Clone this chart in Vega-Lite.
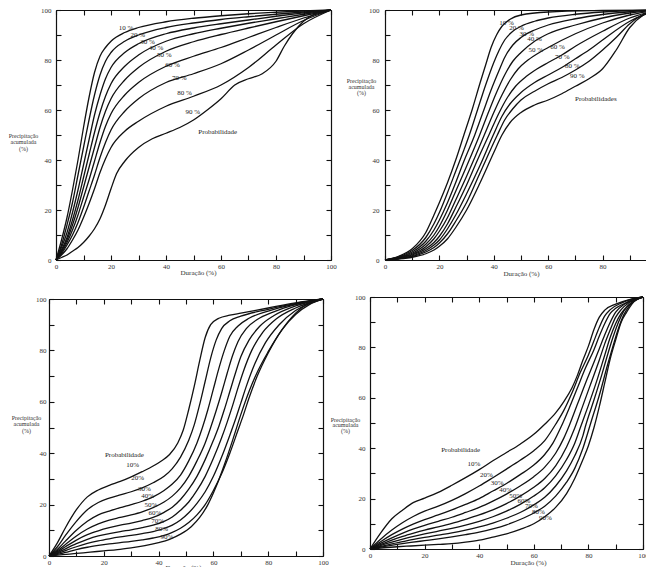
{
"$schema":"https://vega.github.io/schema/vega-lite/v6.json",
"padding":{"left":8,"top":6,"right":0,"bottom":0},
"config":{"view":{"stroke":null},"font":"Liberation Serif",
"axis":{"grid":false,"domainColor":"#111","domainWidth":1.2,"tickColor":"#111","tickWidth":1.1,"tickSize":-5,"labelFont":"Liberation Serif","labelFontSize":7,"labelColor":"#333","titleFont":"Liberation Serif","titleFontSize":6,"titleFontWeight":"normal","titleColor":"#333","labelOverlap":false,"labelFlush":false},
"line":{"color":"#111","strokeWidth":1.3,"interpolate":"monotone"},
"text":{"font":"Liberation Serif","fontSize":7,"color":"#222"}},
"datasets":{
"p1":[
{"c":1,"x":0,"y":0},{"c":1,"x":2,"y":8},{"c":1,"x":4,"y":17},{"c":1,"x":6,"y":28},{"c":1,"x":8,"y":40},{"c":1,"x":10,"y":53},{"c":1,"x":12,"y":65},{"c":1,"x":14,"y":75},{"c":1,"x":16,"y":81.5},{"c":1,"x":18,"y":85},{"c":1,"x":20,"y":87.5},{"c":1,"x":25,"y":91},{"c":1,"x":30,"y":93},{"c":1,"x":40,"y":95.3},{"c":1,"x":50,"y":96.7},{"c":1,"x":60,"y":97.7},{"c":1,"x":70,"y":98.5},{"c":1,"x":80,"y":99.1},{"c":1,"x":90,"y":99.6},{"c":1,"x":100,"y":100},
{"c":2,"x":0,"y":0},{"c":2,"x":2,"y":6},{"c":2,"x":4,"y":14},{"c":2,"x":6,"y":23},{"c":2,"x":8,"y":34},{"c":2,"x":10,"y":45},{"c":2,"x":12,"y":56},{"c":2,"x":14,"y":66},{"c":2,"x":16,"y":74},{"c":2,"x":18,"y":79.5},{"c":2,"x":20,"y":83},{"c":2,"x":25,"y":87.5},{"c":2,"x":30,"y":90},{"c":2,"x":40,"y":93},{"c":2,"x":50,"y":94.8},{"c":2,"x":60,"y":96.2},{"c":2,"x":70,"y":97.3},{"c":2,"x":80,"y":98.3},{"c":2,"x":90,"y":99.2},{"c":2,"x":100,"y":100},
{"c":3,"x":0,"y":0},{"c":3,"x":2,"y":5},{"c":3,"x":4,"y":11},{"c":3,"x":6,"y":19},{"c":3,"x":8,"y":28},{"c":3,"x":10,"y":38},{"c":3,"x":12,"y":48},{"c":3,"x":14,"y":58},{"c":3,"x":16,"y":66},{"c":3,"x":18,"y":72.5},{"c":3,"x":20,"y":77},{"c":3,"x":25,"y":83},{"c":3,"x":30,"y":86.5},{"c":3,"x":40,"y":90.5},{"c":3,"x":50,"y":92.8},{"c":3,"x":60,"y":94.5},{"c":3,"x":70,"y":96},{"c":3,"x":80,"y":97.5},{"c":3,"x":90,"y":98.8},{"c":3,"x":100,"y":100},
{"c":4,"x":0,"y":0},{"c":4,"x":2,"y":4},{"c":4,"x":4,"y":9},{"c":4,"x":6,"y":16},{"c":4,"x":8,"y":24},{"c":4,"x":10,"y":33},{"c":4,"x":12,"y":42},{"c":4,"x":14,"y":51},{"c":4,"x":16,"y":59},{"c":4,"x":18,"y":65.5},{"c":4,"x":20,"y":70.5},{"c":4,"x":25,"y":77.5},{"c":4,"x":30,"y":82},{"c":4,"x":40,"y":87.5},{"c":4,"x":50,"y":90.5},{"c":4,"x":60,"y":92.7},{"c":4,"x":70,"y":94.7},{"c":4,"x":80,"y":96.5},{"c":4,"x":90,"y":98.3},{"c":4,"x":100,"y":100},
{"c":5,"x":0,"y":0},{"c":5,"x":2,"y":3.5},{"c":5,"x":4,"y":8},{"c":5,"x":6,"y":14},{"c":5,"x":8,"y":21},{"c":5,"x":10,"y":29},{"c":5,"x":12,"y":37},{"c":5,"x":14,"y":45},{"c":5,"x":16,"y":53},{"c":5,"x":18,"y":59.5},{"c":5,"x":20,"y":64.5},{"c":5,"x":25,"y":72},{"c":5,"x":30,"y":77},{"c":5,"x":40,"y":83.5},{"c":5,"x":50,"y":87.3},{"c":5,"x":60,"y":90.2},{"c":5,"x":70,"y":92.8},{"c":5,"x":80,"y":95.3},{"c":5,"x":90,"y":97.7},{"c":5,"x":100,"y":100},
{"c":6,"x":0,"y":0},{"c":6,"x":2,"y":3},{"c":6,"x":4,"y":7},{"c":6,"x":6,"y":12},{"c":6,"x":8,"y":18},{"c":6,"x":10,"y":25},{"c":6,"x":12,"y":32},{"c":6,"x":14,"y":39.5},{"c":6,"x":16,"y":47},{"c":6,"x":18,"y":53.5},{"c":6,"x":20,"y":58.5},{"c":6,"x":25,"y":66},{"c":6,"x":30,"y":71},{"c":6,"x":40,"y":77.5},{"c":6,"x":50,"y":81.5},{"c":6,"x":60,"y":85},{"c":6,"x":70,"y":89},{"c":6,"x":80,"y":93},{"c":6,"x":90,"y":96.8},{"c":6,"x":100,"y":100},
{"c":7,"x":0,"y":0},{"c":7,"x":2,"y":2.5},{"c":7,"x":4,"y":6},{"c":7,"x":6,"y":10},{"c":7,"x":8,"y":15},{"c":7,"x":10,"y":21},{"c":7,"x":12,"y":27.5},{"c":7,"x":14,"y":34},{"c":7,"x":16,"y":41},{"c":7,"x":18,"y":47},{"c":7,"x":20,"y":52},{"c":7,"x":25,"y":59.5},{"c":7,"x":30,"y":64.5},{"c":7,"x":40,"y":71},{"c":7,"x":50,"y":74.5},{"c":7,"x":60,"y":78.5},{"c":7,"x":70,"y":84},{"c":7,"x":80,"y":90},{"c":7,"x":90,"y":95.8},{"c":7,"x":100,"y":100},
{"c":8,"x":0,"y":0},{"c":8,"x":2,"y":2},{"c":8,"x":4,"y":4.5},{"c":8,"x":6,"y":8},{"c":8,"x":8,"y":12},{"c":8,"x":10,"y":17},{"c":8,"x":12,"y":22.5},{"c":8,"x":14,"y":28.5},{"c":8,"x":16,"y":35},{"c":8,"x":18,"y":40.5},{"c":8,"x":20,"y":45},{"c":8,"x":25,"y":51.5},{"c":8,"x":30,"y":55.5},{"c":8,"x":40,"y":61.5},{"c":8,"x":50,"y":65.5},{"c":8,"x":60,"y":70},{"c":8,"x":70,"y":77},{"c":8,"x":80,"y":86},{"c":8,"x":90,"y":94.5},{"c":8,"x":100,"y":100},
{"c":9,"x":0,"y":0},{"c":9,"x":2,"y":1},{"c":9,"x":4,"y":2},{"c":9,"x":6,"y":3.5},{"c":9,"x":8,"y":5},{"c":9,"x":10,"y":7},{"c":9,"x":12,"y":9.5},{"c":9,"x":14,"y":12.5},{"c":9,"x":16,"y":16.5},{"c":9,"x":18,"y":22},{"c":9,"x":20,"y":28.5},{"c":9,"x":22,"y":34.5},{"c":9,"x":25,"y":39.5},{"c":9,"x":30,"y":45},{"c":9,"x":35,"y":48.5},{"c":9,"x":40,"y":50.7},{"c":9,"x":45,"y":53},{"c":9,"x":50,"y":56},{"c":9,"x":55,"y":60},{"c":9,"x":60,"y":64.5},{"c":9,"x":65,"y":70},{"c":9,"x":70,"y":72.5},{"c":9,"x":75,"y":74.5},{"c":9,"x":80,"y":79.5},{"c":9,"x":83,"y":85.5},{"c":9,"x":86,"y":90.5},{"c":9,"x":90,"y":95.5},{"c":9,"x":95,"y":98.8},{"c":9,"x":100,"y":100}],
"p2":[
{"c":1,"x":0,"y":0},{"c":1,"x":5,"y":1.5},{"c":1,"x":10,"y":4.5},{"c":1,"x":15,"y":11},{"c":1,"x":18,"y":18},{"c":1,"x":20,"y":23},{"c":1,"x":23,"y":31},{"c":1,"x":26,"y":40},{"c":1,"x":29,"y":50},{"c":1,"x":32,"y":60},{"c":1,"x":35,"y":71},{"c":1,"x":37,"y":78},{"c":1,"x":39,"y":85},{"c":1,"x":41,"y":90},{"c":1,"x":43,"y":93.5},{"c":1,"x":46,"y":96.3},{"c":1,"x":50,"y":98},{"c":1,"x":60,"y":99.2},{"c":1,"x":80,"y":99.8},{"c":1,"x":100,"y":100},
{"c":2,"x":0,"y":0},{"c":2,"x":5,"y":1.3},{"c":2,"x":10,"y":3.8},{"c":2,"x":15,"y":9},{"c":2,"x":18,"y":14.5},{"c":2,"x":20,"y":19},{"c":2,"x":23,"y":27},{"c":2,"x":26,"y":35.5},{"c":2,"x":29,"y":44},{"c":2,"x":31,"y":50},{"c":2,"x":34,"y":60},{"c":2,"x":37,"y":70},{"c":2,"x":40,"y":79},{"c":2,"x":42,"y":84},{"c":2,"x":44,"y":88},{"c":2,"x":47,"y":91.5},{"c":2,"x":50,"y":93.5},{"c":2,"x":55,"y":95.5},{"c":2,"x":60,"y":96.8},{"c":2,"x":70,"y":98.3},{"c":2,"x":80,"y":99.2},{"c":2,"x":100,"y":100},
{"c":3,"x":0,"y":0},{"c":3,"x":5,"y":1.1},{"c":3,"x":10,"y":3.2},{"c":3,"x":15,"y":7.5},{"c":3,"x":18,"y":12},{"c":3,"x":20,"y":16},{"c":3,"x":23,"y":23},{"c":3,"x":26,"y":31},{"c":3,"x":29,"y":39.5},{"c":3,"x":33,"y":50},{"c":3,"x":36,"y":59},{"c":3,"x":39,"y":68},{"c":3,"x":42,"y":76},{"c":3,"x":44,"y":81},{"c":3,"x":47,"y":86},{"c":3,"x":50,"y":89},{"c":3,"x":55,"y":92},{"c":3,"x":60,"y":94},{"c":3,"x":70,"y":96.5},{"c":3,"x":80,"y":98.2},{"c":3,"x":90,"y":99.3},{"c":3,"x":100,"y":100},
{"c":4,"x":0,"y":0},{"c":4,"x":5,"y":1},{"c":4,"x":10,"y":2.7},{"c":4,"x":15,"y":6.3},{"c":4,"x":18,"y":10},{"c":4,"x":20,"y":13.5},{"c":4,"x":23,"y":20},{"c":4,"x":26,"y":27.5},{"c":4,"x":30,"y":37.5},{"c":4,"x":34.8,"y":50},{"c":4,"x":38,"y":59},{"c":4,"x":41,"y":67},{"c":4,"x":44,"y":74},{"c":4,"x":47,"y":79.5},{"c":4,"x":50,"y":83},{"c":4,"x":55,"y":87.5},{"c":4,"x":60,"y":90.5},{"c":4,"x":70,"y":94},{"c":4,"x":80,"y":96.8},{"c":4,"x":90,"y":98.8},{"c":4,"x":100,"y":100},
{"c":5,"x":0,"y":0},{"c":5,"x":5,"y":0.8},{"c":5,"x":10,"y":2.3},{"c":5,"x":15,"y":5.3},{"c":5,"x":18,"y":8.5},{"c":5,"x":20,"y":11.5},{"c":5,"x":23,"y":17},{"c":5,"x":26,"y":24},{"c":5,"x":30,"y":33.5},{"c":5,"x":33,"y":41},{"c":5,"x":36.5,"y":50},{"c":5,"x":40,"y":59},{"c":5,"x":43,"y":66},{"c":5,"x":46,"y":72},{"c":5,"x":49,"y":76.5},{"c":5,"x":52,"y":79.5},{"c":5,"x":56,"y":82.5},{"c":5,"x":60,"y":85},{"c":5,"x":70,"y":90.5},{"c":5,"x":80,"y":94.8},{"c":5,"x":90,"y":98},{"c":5,"x":100,"y":100},
{"c":6,"x":0,"y":0},{"c":6,"x":5,"y":0.7},{"c":6,"x":10,"y":2},{"c":6,"x":15,"y":4.5},{"c":6,"x":18,"y":7},{"c":6,"x":20,"y":9.5},{"c":6,"x":23,"y":14.5},{"c":6,"x":26,"y":21},{"c":6,"x":30,"y":30},{"c":6,"x":34,"y":40},{"c":6,"x":38.2,"y":50},{"c":6,"x":42,"y":59},{"c":6,"x":45,"y":65},{"c":6,"x":48,"y":69.5},{"c":6,"x":52,"y":73.5},{"c":6,"x":56,"y":76.5},{"c":6,"x":60,"y":79},{"c":6,"x":65,"y":82},{"c":6,"x":70,"y":85.5},{"c":6,"x":80,"y":91.5},{"c":6,"x":90,"y":96.8},{"c":6,"x":100,"y":100},
{"c":7,"x":0,"y":0},{"c":7,"x":5,"y":0.6},{"c":7,"x":10,"y":1.7},{"c":7,"x":15,"y":3.8},{"c":7,"x":18,"y":6},{"c":7,"x":20,"y":8},{"c":7,"x":23,"y":12.5},{"c":7,"x":26,"y":18},{"c":7,"x":30,"y":26.5},{"c":7,"x":35,"y":38},{"c":7,"x":39.8,"y":50},{"c":7,"x":43,"y":57.5},{"c":7,"x":46,"y":62.5},{"c":7,"x":50,"y":67},{"c":7,"x":55,"y":71},{"c":7,"x":60,"y":74},{"c":7,"x":65,"y":77},{"c":7,"x":70,"y":80.5},{"c":7,"x":75,"y":84},{"c":7,"x":80,"y":88},{"c":7,"x":90,"y":95.5},{"c":7,"x":100,"y":100},
{"c":8,"x":0,"y":0},{"c":8,"x":5,"y":0.5},{"c":8,"x":10,"y":1.4},{"c":8,"x":15,"y":3.2},{"c":8,"x":18,"y":5},{"c":8,"x":20,"y":6.8},{"c":8,"x":23,"y":10.5},{"c":8,"x":26,"y":15.5},{"c":8,"x":30,"y":23},{"c":8,"x":35,"y":35},{"c":8,"x":41.3,"y":50},{"c":8,"x":44,"y":56},{"c":8,"x":47,"y":60.5},{"c":8,"x":50,"y":64},{"c":8,"x":55,"y":67.5},{"c":8,"x":60,"y":70.5},{"c":8,"x":65,"y":73},{"c":8,"x":70,"y":76},{"c":8,"x":75,"y":79.5},{"c":8,"x":80,"y":84},{"c":8,"x":85,"y":89},{"c":8,"x":90,"y":94.5},{"c":8,"x":95,"y":98.3},{"c":8,"x":100,"y":100},
{"c":9,"x":0,"y":0},{"c":9,"x":5,"y":0.4},{"c":9,"x":10,"y":1.1},{"c":9,"x":15,"y":2.5},{"c":9,"x":18,"y":4},{"c":9,"x":20,"y":5.5},{"c":9,"x":23,"y":8.5},{"c":9,"x":26,"y":13},{"c":9,"x":30,"y":20},{"c":9,"x":35,"y":31},{"c":9,"x":40,"y":43},{"c":9,"x":43,"y":50},{"c":9,"x":46,"y":55},{"c":9,"x":50,"y":59},{"c":9,"x":55,"y":62},{"c":9,"x":60,"y":64},{"c":9,"x":65,"y":66.5},{"c":9,"x":70,"y":69.5},{"c":9,"x":75,"y":72.5},{"c":9,"x":80,"y":76.5},{"c":9,"x":85,"y":84},{"c":9,"x":90,"y":93},{"c":9,"x":95,"y":98},{"c":9,"x":100,"y":100}],
"p3":[
{"c":1,"x":0,"y":0},{"c":1,"x":3,"y":5},{"c":1,"x":6,"y":11},{"c":1,"x":10,"y":18},{"c":1,"x":14,"y":23},{"c":1,"x":18,"y":25.7},{"c":1,"x":22,"y":27.5},{"c":1,"x":26,"y":29},{"c":1,"x":30,"y":30.8},{"c":1,"x":34,"y":32.8},{"c":1,"x":38,"y":35},{"c":1,"x":41,"y":37},{"c":1,"x":44,"y":39.5},{"c":1,"x":47,"y":44},{"c":1,"x":49,"y":49},{"c":1,"x":51,"y":57},{"c":1,"x":53,"y":66},{"c":1,"x":55,"y":76},{"c":1,"x":57,"y":85},{"c":1,"x":59,"y":90},{"c":1,"x":62,"y":92.5},{"c":1,"x":66,"y":93.7},{"c":1,"x":70,"y":94.5},{"c":1,"x":80,"y":96.5},{"c":1,"x":90,"y":98.5},{"c":1,"x":100,"y":100},
{"c":2,"x":0,"y":0},{"c":2,"x":3,"y":3.5},{"c":2,"x":6,"y":8},{"c":2,"x":10,"y":13.5},{"c":2,"x":14,"y":18},{"c":2,"x":18,"y":20.8},{"c":2,"x":22,"y":22.5},{"c":2,"x":26,"y":23.8},{"c":2,"x":30,"y":25},{"c":2,"x":34,"y":26.5},{"c":2,"x":38,"y":28.5},{"c":2,"x":42,"y":31},{"c":2,"x":45,"y":34},{"c":2,"x":48,"y":38.5},{"c":2,"x":51,"y":45},{"c":2,"x":53,"y":51},{"c":2,"x":55,"y":59},{"c":2,"x":57,"y":68},{"c":2,"x":59,"y":77},{"c":2,"x":61,"y":84},{"c":2,"x":63,"y":88.5},{"c":2,"x":66,"y":91.5},{"c":2,"x":70,"y":93.3},{"c":2,"x":80,"y":96},{"c":2,"x":90,"y":98.3},{"c":2,"x":100,"y":100},
{"c":3,"x":0,"y":0},{"c":3,"x":3,"y":2.5},{"c":3,"x":6,"y":5.8},{"c":3,"x":10,"y":10},{"c":3,"x":14,"y":13.5},{"c":3,"x":18,"y":16},{"c":3,"x":22,"y":17.5},{"c":3,"x":26,"y":18.8},{"c":3,"x":30,"y":20},{"c":3,"x":34,"y":21.3},{"c":3,"x":38,"y":23},{"c":3,"x":42,"y":25.5},{"c":3,"x":45,"y":28},{"c":3,"x":48,"y":31.5},{"c":3,"x":51,"y":37},{"c":3,"x":54,"y":44},{"c":3,"x":56,"y":50},{"c":3,"x":58,"y":57},{"c":3,"x":60,"y":65},{"c":3,"x":62,"y":73},{"c":3,"x":64,"y":80},{"c":3,"x":66,"y":85.5},{"c":3,"x":69,"y":89.5},{"c":3,"x":73,"y":92.5},{"c":3,"x":80,"y":95.3},{"c":3,"x":90,"y":98},{"c":3,"x":100,"y":100},
{"c":4,"x":0,"y":0},{"c":4,"x":3,"y":2},{"c":4,"x":6,"y":4.5},{"c":4,"x":10,"y":7.8},{"c":4,"x":14,"y":10.5},{"c":4,"x":18,"y":12.5},{"c":4,"x":22,"y":14},{"c":4,"x":26,"y":15},{"c":4,"x":30,"y":16},{"c":4,"x":34,"y":17.2},{"c":4,"x":38,"y":18.8},{"c":4,"x":42,"y":21},{"c":4,"x":45,"y":23.3},{"c":4,"x":48,"y":26.5},{"c":4,"x":51,"y":31},{"c":4,"x":54,"y":37},{"c":4,"x":57,"y":44},{"c":4,"x":59,"y":50},{"c":4,"x":61,"y":56.5},{"c":4,"x":63,"y":63.5},{"c":4,"x":65,"y":71},{"c":4,"x":67,"y":78},{"c":4,"x":69,"y":83.5},{"c":4,"x":72,"y":88.5},{"c":4,"x":76,"y":92},{"c":4,"x":82,"y":95},{"c":4,"x":90,"y":97.8},{"c":4,"x":100,"y":100},
{"c":5,"x":0,"y":0},{"c":5,"x":3,"y":1.6},{"c":5,"x":6,"y":3.6},{"c":5,"x":10,"y":6.2},{"c":5,"x":14,"y":8.3},{"c":5,"x":18,"y":9.8},{"c":5,"x":22,"y":11},{"c":5,"x":26,"y":12},{"c":5,"x":30,"y":12.8},{"c":5,"x":34,"y":13.8},{"c":5,"x":38,"y":15},{"c":5,"x":42,"y":17},{"c":5,"x":45,"y":19},{"c":5,"x":48,"y":22},{"c":5,"x":51,"y":26},{"c":5,"x":54,"y":31},{"c":5,"x":57,"y":37.5},{"c":5,"x":60,"y":45},{"c":5,"x":62,"y":50.5},{"c":5,"x":64,"y":57},{"c":5,"x":66,"y":64},{"c":5,"x":68,"y":71},{"c":5,"x":70,"y":77.5},{"c":5,"x":73,"y":84},{"c":5,"x":77,"y":89.5},{"c":5,"x":82,"y":93.5},{"c":5,"x":90,"y":97.3},{"c":5,"x":100,"y":100},
{"c":6,"x":0,"y":0},{"c":6,"x":3,"y":1.2},{"c":6,"x":6,"y":2.8},{"c":6,"x":10,"y":4.8},{"c":6,"x":14,"y":6.5},{"c":6,"x":18,"y":7.8},{"c":6,"x":22,"y":8.7},{"c":6,"x":26,"y":9.5},{"c":6,"x":30,"y":10.2},{"c":6,"x":34,"y":11},{"c":6,"x":38,"y":12},{"c":6,"x":42,"y":13.5},{"c":6,"x":45,"y":15.2},{"c":6,"x":48,"y":17.8},{"c":6,"x":51,"y":21},{"c":6,"x":54,"y":25.5},{"c":6,"x":57,"y":31},{"c":6,"x":60,"y":38},{"c":6,"x":63,"y":46},{"c":6,"x":65,"y":52},{"c":6,"x":67,"y":58.5},{"c":6,"x":69,"y":65.5},{"c":6,"x":71,"y":72},{"c":6,"x":74,"y":80},{"c":6,"x":78,"y":87},{"c":6,"x":83,"y":92.3},{"c":6,"x":90,"y":96.5},{"c":6,"x":100,"y":100},
{"c":7,"x":0,"y":0},{"c":7,"x":3,"y":0.9},{"c":7,"x":6,"y":2.1},{"c":7,"x":10,"y":3.6},{"c":7,"x":14,"y":4.9},{"c":7,"x":18,"y":5.9},{"c":7,"x":22,"y":6.7},{"c":7,"x":26,"y":7.4},{"c":7,"x":30,"y":8},{"c":7,"x":34,"y":8.7},{"c":7,"x":38,"y":9.5},{"c":7,"x":42,"y":10.7},{"c":7,"x":45,"y":12},{"c":7,"x":48,"y":14},{"c":7,"x":51,"y":16.8},{"c":7,"x":54,"y":20.5},{"c":7,"x":57,"y":25},{"c":7,"x":60,"y":31},{"c":7,"x":63,"y":38.5},{"c":7,"x":66,"y":47},{"c":7,"x":68,"y":53},{"c":7,"x":70,"y":59.5},{"c":7,"x":72,"y":66},{"c":7,"x":75,"y":74.5},{"c":7,"x":79,"y":83},{"c":7,"x":84,"y":90},{"c":7,"x":90,"y":95.5},{"c":7,"x":100,"y":100},
{"c":8,"x":0,"y":0},{"c":8,"x":3,"y":0.6},{"c":8,"x":6,"y":1.4},{"c":8,"x":10,"y":2.5},{"c":8,"x":14,"y":3.4},{"c":8,"x":18,"y":4.1},{"c":8,"x":22,"y":4.7},{"c":8,"x":26,"y":5.2},{"c":8,"x":30,"y":5.7},{"c":8,"x":34,"y":6.3},{"c":8,"x":38,"y":7},{"c":8,"x":42,"y":8},{"c":8,"x":45,"y":9.2},{"c":8,"x":48,"y":10.8},{"c":8,"x":51,"y":13},{"c":8,"x":54,"y":16},{"c":8,"x":57,"y":20},{"c":8,"x":60,"y":25.5},{"c":8,"x":63,"y":32},{"c":8,"x":66,"y":40},{"c":8,"x":69,"y":49},{"c":8,"x":71,"y":55},{"c":8,"x":73,"y":61.5},{"c":8,"x":76,"y":70},{"c":8,"x":80,"y":79},{"c":8,"x":85,"y":88},{"c":8,"x":90,"y":94},{"c":8,"x":95,"y":97.8},{"c":8,"x":100,"y":100},
{"c":9,"x":0,"y":0},{"c":9,"x":5,"y":0.5},{"c":9,"x":10,"y":1},{"c":9,"x":15,"y":1.5},{"c":9,"x":20,"y":2},{"c":9,"x":25,"y":2.5},{"c":9,"x":30,"y":3.2},{"c":9,"x":35,"y":4},{"c":9,"x":40,"y":5.2},{"c":9,"x":44,"y":6.5},{"c":9,"x":48,"y":8.5},{"c":9,"x":52,"y":11.5},{"c":9,"x":55,"y":15},{"c":9,"x":58,"y":20},{"c":9,"x":61,"y":27},{"c":9,"x":64,"y":35.5},{"c":9,"x":67,"y":45},{"c":9,"x":70,"y":55},{"c":9,"x":73,"y":64},{"c":9,"x":76,"y":71.5},{"c":9,"x":80,"y":79.5},{"c":9,"x":85,"y":88},{"c":9,"x":90,"y":94.5},{"c":9,"x":95,"y":98.5},{"c":9,"x":100,"y":100}],
"p4":[
{"c":1,"x":0,"y":0},{"c":1,"x":4,"y":6.5},{"c":1,"x":8,"y":12},{"c":1,"x":12,"y":15.5},{"c":1,"x":16,"y":18.5},{"c":1,"x":20,"y":20.2},{"c":1,"x":25,"y":22.5},{"c":1,"x":30,"y":25.3},{"c":1,"x":35,"y":28.3},{"c":1,"x":40,"y":31.5},{"c":1,"x":45,"y":35},{"c":1,"x":50,"y":38.3},{"c":1,"x":55,"y":41.6},{"c":1,"x":60,"y":45.5},{"c":1,"x":64,"y":49.5},{"c":1,"x":68,"y":54},{"c":1,"x":71,"y":58.5},{"c":1,"x":74,"y":64},{"c":1,"x":76,"y":69},{"c":1,"x":78,"y":75},{"c":1,"x":80,"y":80.5},{"c":1,"x":82,"y":87},{"c":1,"x":84,"y":92},{"c":1,"x":86,"y":94.8},{"c":1,"x":90,"y":97.2},{"c":1,"x":95,"y":99},{"c":1,"x":100,"y":100},
{"c":2,"x":0,"y":0},{"c":2,"x":4,"y":4},{"c":2,"x":8,"y":7.5},{"c":2,"x":12,"y":10.5},{"c":2,"x":16,"y":13},{"c":2,"x":20,"y":15},{"c":2,"x":25,"y":17},{"c":2,"x":30,"y":19.3},{"c":2,"x":35,"y":22},{"c":2,"x":40,"y":25},{"c":2,"x":45,"y":28.3},{"c":2,"x":50,"y":31.7},{"c":2,"x":55,"y":35.2},{"c":2,"x":60,"y":39},{"c":2,"x":64,"y":43},{"c":2,"x":68,"y":49.5},{"c":2,"x":71,"y":55},{"c":2,"x":74,"y":62},{"c":2,"x":77,"y":70},{"c":2,"x":80,"y":77},{"c":2,"x":82,"y":82.5},{"c":2,"x":84,"y":88},{"c":2,"x":86,"y":92.5},{"c":2,"x":88,"y":95},{"c":2,"x":92,"y":97.6},{"c":2,"x":96,"y":99.2},{"c":2,"x":100,"y":100},
{"c":3,"x":0,"y":0},{"c":3,"x":4,"y":3},{"c":3,"x":8,"y":5.7},{"c":3,"x":12,"y":8},{"c":3,"x":16,"y":10},{"c":3,"x":20,"y":11.7},{"c":3,"x":25,"y":13.5},{"c":3,"x":30,"y":15.5},{"c":3,"x":35,"y":17.7},{"c":3,"x":40,"y":20},{"c":3,"x":45,"y":23},{"c":3,"x":50,"y":26},{"c":3,"x":55,"y":29.5},{"c":3,"x":60,"y":33.3},{"c":3,"x":64,"y":37.5},{"c":3,"x":67,"y":42},{"c":3,"x":70,"y":48.5},{"c":3,"x":73,"y":56},{"c":3,"x":76,"y":64},{"c":3,"x":79,"y":72},{"c":3,"x":82,"y":79},{"c":3,"x":84,"y":84.5},{"c":3,"x":86,"y":89.5},{"c":3,"x":88,"y":93.5},{"c":3,"x":90,"y":95.5},{"c":3,"x":94,"y":97.8},{"c":3,"x":100,"y":100},
{"c":4,"x":0,"y":0},{"c":4,"x":4,"y":2.3},{"c":4,"x":8,"y":4.4},{"c":4,"x":12,"y":6.3},{"c":4,"x":16,"y":8},{"c":4,"x":20,"y":9.4},{"c":4,"x":25,"y":11},{"c":4,"x":30,"y":12.6},{"c":4,"x":35,"y":14.5},{"c":4,"x":40,"y":16.5},{"c":4,"x":45,"y":19},{"c":4,"x":50,"y":21.8},{"c":4,"x":55,"y":25},{"c":4,"x":60,"y":28.7},{"c":4,"x":64,"y":32.5},{"c":4,"x":68,"y":38},{"c":4,"x":71,"y":44},{"c":4,"x":73,"y":49},{"c":4,"x":76,"y":57.5},{"c":4,"x":79,"y":66},{"c":4,"x":82,"y":74},{"c":4,"x":84,"y":79.5},{"c":4,"x":86,"y":85},{"c":4,"x":88,"y":90},{"c":4,"x":90,"y":94},{"c":4,"x":93,"y":97},{"c":4,"x":100,"y":100},
{"c":5,"x":0,"y":0},{"c":5,"x":4,"y":1.8},{"c":5,"x":8,"y":3.5},{"c":5,"x":12,"y":5},{"c":5,"x":16,"y":6.3},{"c":5,"x":20,"y":7.5},{"c":5,"x":25,"y":8.8},{"c":5,"x":30,"y":10.2},{"c":5,"x":35,"y":11.8},{"c":5,"x":40,"y":13.5},{"c":5,"x":45,"y":15.5},{"c":5,"x":50,"y":18},{"c":5,"x":55,"y":21},{"c":5,"x":60,"y":24.5},{"c":5,"x":64,"y":28},{"c":5,"x":68,"y":33},{"c":5,"x":72,"y":40.5},{"c":5,"x":75,"y":48},{"c":5,"x":78,"y":57},{"c":5,"x":81,"y":66},{"c":5,"x":84,"y":75},{"c":5,"x":86,"y":81.5},{"c":5,"x":88,"y":87},{"c":5,"x":90,"y":92},{"c":5,"x":92,"y":95},{"c":5,"x":95,"y":97.8},{"c":5,"x":100,"y":100},
{"c":6,"x":0,"y":0},{"c":6,"x":4,"y":1.4},{"c":6,"x":8,"y":2.7},{"c":6,"x":12,"y":3.9},{"c":6,"x":16,"y":5},{"c":6,"x":20,"y":6},{"c":6,"x":25,"y":7.1},{"c":6,"x":30,"y":8.2},{"c":6,"x":35,"y":9.5},{"c":6,"x":40,"y":11},{"c":6,"x":45,"y":12.8},{"c":6,"x":50,"y":15},{"c":6,"x":55,"y":17.7},{"c":6,"x":60,"y":21},{"c":6,"x":64,"y":24.3},{"c":6,"x":68,"y":29},{"c":6,"x":72,"y":35.5},{"c":6,"x":75,"y":42},{"c":6,"x":77,"y":48},{"c":6,"x":80,"y":57},{"c":6,"x":83,"y":66.5},{"c":6,"x":86,"y":77},{"c":6,"x":88,"y":84},{"c":6,"x":90,"y":89.5},{"c":6,"x":92,"y":93.5},{"c":6,"x":95,"y":97},{"c":6,"x":100,"y":100},
{"c":7,"x":0,"y":0},{"c":7,"x":4,"y":1},{"c":7,"x":8,"y":2},{"c":7,"x":12,"y":2.9},{"c":7,"x":16,"y":3.8},{"c":7,"x":20,"y":4.6},{"c":7,"x":25,"y":5.5},{"c":7,"x":30,"y":6.4},{"c":7,"x":35,"y":7.5},{"c":7,"x":40,"y":8.8},{"c":7,"x":45,"y":10.3},{"c":7,"x":50,"y":12.2},{"c":7,"x":55,"y":14.5},{"c":7,"x":60,"y":17.5},{"c":7,"x":64,"y":20.5},{"c":7,"x":68,"y":25},{"c":7,"x":72,"y":31},{"c":7,"x":75,"y":37},{"c":7,"x":78,"y":45},{"c":7,"x":79,"y":49},{"c":7,"x":82,"y":59},{"c":7,"x":85,"y":69.5},{"c":7,"x":87,"y":77},{"c":7,"x":89,"y":84},{"c":7,"x":91,"y":90},{"c":7,"x":93,"y":94.5},{"c":7,"x":96,"y":98},{"c":7,"x":100,"y":100},
{"c":8,"x":0,"y":0},{"c":8,"x":5,"y":0.9},{"c":8,"x":10,"y":1.8},{"c":8,"x":15,"y":2.6},{"c":8,"x":20,"y":3.3},{"c":8,"x":25,"y":4},{"c":8,"x":30,"y":4.8},{"c":8,"x":35,"y":5.7},{"c":8,"x":40,"y":6.7},{"c":8,"x":45,"y":8},{"c":8,"x":50,"y":9.6},{"c":8,"x":55,"y":11.7},{"c":8,"x":60,"y":14.3},{"c":8,"x":64,"y":17},{"c":8,"x":68,"y":21},{"c":8,"x":72,"y":26.5},{"c":8,"x":75,"y":32},{"c":8,"x":78,"y":40},{"c":8,"x":81,"y":50.5},{"c":8,"x":84,"y":61},{"c":8,"x":87,"y":73},{"c":8,"x":89,"y":80.5},{"c":8,"x":91,"y":87.5},{"c":8,"x":93,"y":93},{"c":8,"x":95,"y":96.5},{"c":8,"x":98,"y":99.2},{"c":8,"x":100,"y":100},
{"c":9,"x":0,"y":0},{"c":9,"x":5,"y":0.5},{"c":9,"x":10,"y":0.9},{"c":9,"x":15,"y":1.2},{"c":9,"x":20,"y":1.5},{"c":9,"x":25,"y":1.8},{"c":9,"x":30,"y":2.1},{"c":9,"x":35,"y":2.7},{"c":9,"x":40,"y":3.5},{"c":9,"x":45,"y":4.7},{"c":9,"x":50,"y":6},{"c":9,"x":55,"y":7.8},{"c":9,"x":60,"y":10},{"c":9,"x":64,"y":12.8},{"c":9,"x":68,"y":16.5},{"c":9,"x":72,"y":22},{"c":9,"x":75,"y":28},{"c":9,"x":78,"y":35.5},{"c":9,"x":80,"y":41},{"c":9,"x":82,"y":48},{"c":9,"x":84,"y":56.5},{"c":9,"x":86,"y":66},{"c":9,"x":88,"y":75.5},{"c":9,"x":90,"y":83},{"c":9,"x":92,"y":90},{"c":9,"x":94,"y":94},{"c":9,"x":96,"y":97.3},{"c":9,"x":100,"y":100}],
"l1":[{"t":"10 %","x":25.5,"y":93},{"t":"20 %","x":29.7,"y":90},{"t":"30 %","x":33.3,"y":87.3},{"t":"40 %","x":36.4,"y":84.7},{"t":"50 %","x":39.4,"y":82},{"t":"60 %","x":42.4,"y":78},{"t":"70 %","x":44.8,"y":72.7},{"t":"80 %","x":46.7,"y":67},{"t":"90 %","x":49.7,"y":59.3},{"t":"Probabilidade","x":58.8,"y":51.3}],
"l2":[{"t":"10 %","x":44.7,"y":95},{"t":"20 %","x":48.4,"y":92.7},{"t":"30 %","x":52.1,"y":90.3},{"t":"40 %","x":55,"y":88.3},{"t":"50 %","x":55.4,"y":84},{"t":"60 %","x":63.4,"y":85.3},{"t":"70 %","x":65.2,"y":81.3},{"t":"80 %","x":68.9,"y":77.6},{"t":"90 %","x":70.7,"y":73.6},{"t":"Probabilidades","x":77.5,"y":64.3}],
"l3":[{"t":"Probabilidade","x":27.5,"y":39.4},{"t":"10%","x":30.5,"y":35.3},{"t":"20%","x":32.4,"y":30.4},{"t":"30%","x":34.8,"y":26.2},{"t":"40%","x":36,"y":23.2},{"t":"50%","x":37.2,"y":20},{"t":"60%","x":38.7,"y":16.9},{"t":"70%","x":39.7,"y":13.5},{"t":"80%","x":41.1,"y":10.4},{"t":"90%","x":43,"y":7.4}],
"l4":[{"t":"Probabilidade","x":33.2,"y":39.2},{"t":"10%","x":38.1,"y":33.9},{"t":"20%","x":42.6,"y":29.5},{"t":"30%","x":46.6,"y":26.2},{"t":"40%","x":49.7,"y":23.3},{"t":"50%","x":53.4,"y":21},{"t":"60%","x":56.4,"y":18.9},{"t":"70%","x":59.1,"y":16.9},{"t":"80%","x":61.7,"y":14.7},{"t":"90%","x":64.3,"y":12.4}]
},
"spacing":17,
"vconcat":[
{"bounds":"flush","spacing":54,"hconcat":[
{"width":282,"height":250,"resolve":{"axis":{"x":"independent","y":"independent"}},"layer":[
{"data":{"name":"p1"},"mark":{"type":"line"},"encoding":{
"x":{"field":"x","type":"quantitative","scale":{"domain":[0,100],"range":[7,282]},"axis":{"orient":"bottom","values":[0,10,20,30,40,50,60,70,80,90,100],"labelExpr":"datum.value % 20 == 0 ? datum.label : ''","labelPadding":7,"title":"Duração (%)","titleX":149,"titleY":12,"titleBaseline":"middle","titleAlign":"center","titleFontSize":7}},
"y":{"field":"y","type":"quantitative","scale":{"domain":[0,100]},"axis":{"orient":"left","offset":-7,"values":[0,10,20,30,40,50,60,70,80,90,100],"labelExpr":"datum.value % 20 == 0 ? datum.label : ''","labelPadding":10,"title":["Precipitação","acumulada","(%)"],"titleAngle":0,"titleAlign":"center","titleBaseline":"top","titleX":-33,"titleY":122,"titleLineHeight":6.5}},
"detail":{"field":"c","type":"nominal"}}},
{"data":{"name":"l1"},"mark":{"type":"text"},"encoding":{
"x":{"field":"x","type":"quantitative","scale":{"domain":[0,100],"range":[7,282]},"axis":{"orient":"top","values":[0,10,20,30,40,50,60,70,80,90,100],"labels":false,"title":null}},
"y":{"field":"y","type":"quantitative","scale":{"domain":[0,100]},"axis":{"orient":"right","values":[0,10,20,30,40,50,60,70,80,90,100],"labels":false,"title":null}},
"text":{"field":"t"}}}]},
{"width":272,"height":250,"resolve":{"axis":{"x":"independent","y":"independent"}},"layer":[
{"data":{"name":"p2"},"mark":{"type":"line"},"encoding":{
"x":{"field":"x","type":"quantitative","scale":{"domain":[0,100]},"axis":{"orient":"bottom","values":[0,10,20,30,40,50,60,70,80,90,100],"labelExpr":"datum.value % 20 == 0 ? datum.label : ''","labelPadding":7,"title":"Duração (%)","titleX":136,"titleY":13,"titleBaseline":"middle","titleAlign":"center","titleFontSize":7}},
"y":{"field":"y","type":"quantitative","scale":{"domain":[0,100]},"axis":{"orient":"left","values":[0,10,20,30,40,50,60,70,80,90,100],"labelExpr":"datum.value % 20 == 0 ? datum.label : ''","labelPadding":11,"title":["Precipitação","acumulada","(%)"],"titleAngle":0,"titleAlign":"center","titleBaseline":"top","titleX":-24,"titleY":67,"titleLineHeight":6}},
"detail":{"field":"c","type":"nominal"}}},
{"data":{"name":"l2"},"mark":{"type":"text"},"encoding":{
"x":{"field":"x","type":"quantitative","scale":{"domain":[0,100]},"axis":{"orient":"top","values":[0,10,20,30,40,50,60,70,80,90,100],"labels":false,"title":null}},
"y":{"field":"y","type":"quantitative","scale":{"domain":[0,100]},"axis":{"orient":"right","values":[0,10,20,30,40,50,60,70,80,90,100],"labels":false,"title":null}},
"text":{"field":"t"}}}]}]},
{"bounds":"flush","spacing":47,"hconcat":[
{"width":274,"height":259,"resolve":{"axis":{"x":"independent","y":"independent"}},"layer":[
{"data":{"name":"p3"},"mark":{"type":"line"},"encoding":{
"x":{"field":"x","type":"quantitative","scale":{"domain":[0,100]},"axis":{"orient":"bottom","values":[0,10,20,30,40,50,60,70,80,90,100],"labelExpr":"datum.value % 20 == 0 ? datum.label : ''","labelPadding":7,"title":"Duração (%)","titleX":134,"titleY":11,"titleBaseline":"middle","titleAlign":"center","titleFontSize":7}},
"y":{"field":"y","type":"quantitative","scale":{"domain":[0,100],"range":[259,2]},"axis":{"orient":"left","values":[0,10,20,30,40,50,60,70,80,90,100],"labelExpr":"datum.value % 20 == 0 ? datum.label : ''","labelPadding":8,"title":["Precipitação","acumulada","(%)"],"titleAngle":0,"titleAlign":"center","titleBaseline":"top","titleX":-23,"titleY":117,"titleLineHeight":6.5}},
"detail":{"field":"c","type":"nominal"}}},
{"data":{"name":"l3"},"mark":{"type":"text"},"encoding":{
"x":{"field":"x","type":"quantitative","scale":{"domain":[0,100]},"axis":{"orient":"top","offset":-2,"values":[0,10,20,30,40,50,60,70,80,90,100],"labels":false,"title":null}},
"y":{"field":"y","type":"quantitative","scale":{"domain":[0,100],"range":[259,2]},"axis":{"orient":"right","values":[0,10,20,30,40,50,60,70,80,90,100],"labels":false,"title":null}},
"text":{"field":"t"}}}]},
{"width":273,"height":252,"resolve":{"axis":{"x":"independent","y":"independent"}},"layer":[
{"data":{"name":"p4"},"mark":{"type":"line"},"encoding":{
"x":{"field":"x","type":"quantitative","scale":{"domain":[0,100]},"axis":{"orient":"bottom","values":[0,10,20,30,40,50,60,70,80,90,100],"labelExpr":"datum.value % 20 == 0 ? datum.label : ''","labelPadding":7,"title":"Duração (%)","titleX":158,"titleY":13,"titleBaseline":"middle","titleAlign":"center","titleFontSize":7}},
"y":{"field":"y","type":"quantitative","scale":{"domain":[0,100]},"axis":{"orient":"left","values":[0,10,20,30,40,50,60,70,80,90,100],"labelExpr":"datum.value % 20 == 0 ? datum.label : ''","labelPadding":10,"title":["Precipitação","acumulada","(%)"],"titleAngle":0,"titleAlign":"center","titleBaseline":"top","titleX":-25,"titleY":119,"titleLineHeight":5.5}},
"detail":{"field":"c","type":"nominal"}}},
{"data":{"name":"l4"},"mark":{"type":"text"},"encoding":{
"x":{"field":"x","type":"quantitative","scale":{"domain":[0,100]},"axis":{"orient":"top","values":[0,10,20,30,40,50,60,70,80,90,100],"labels":false,"title":null}},
"y":{"field":"y","type":"quantitative","scale":{"domain":[0,100]},"axis":{"orient":"right","values":[0,10,20,30,40,50,60,70,80,90,100],"labels":false,"title":null}},
"text":{"field":"t"}}}]}]}
]
}
